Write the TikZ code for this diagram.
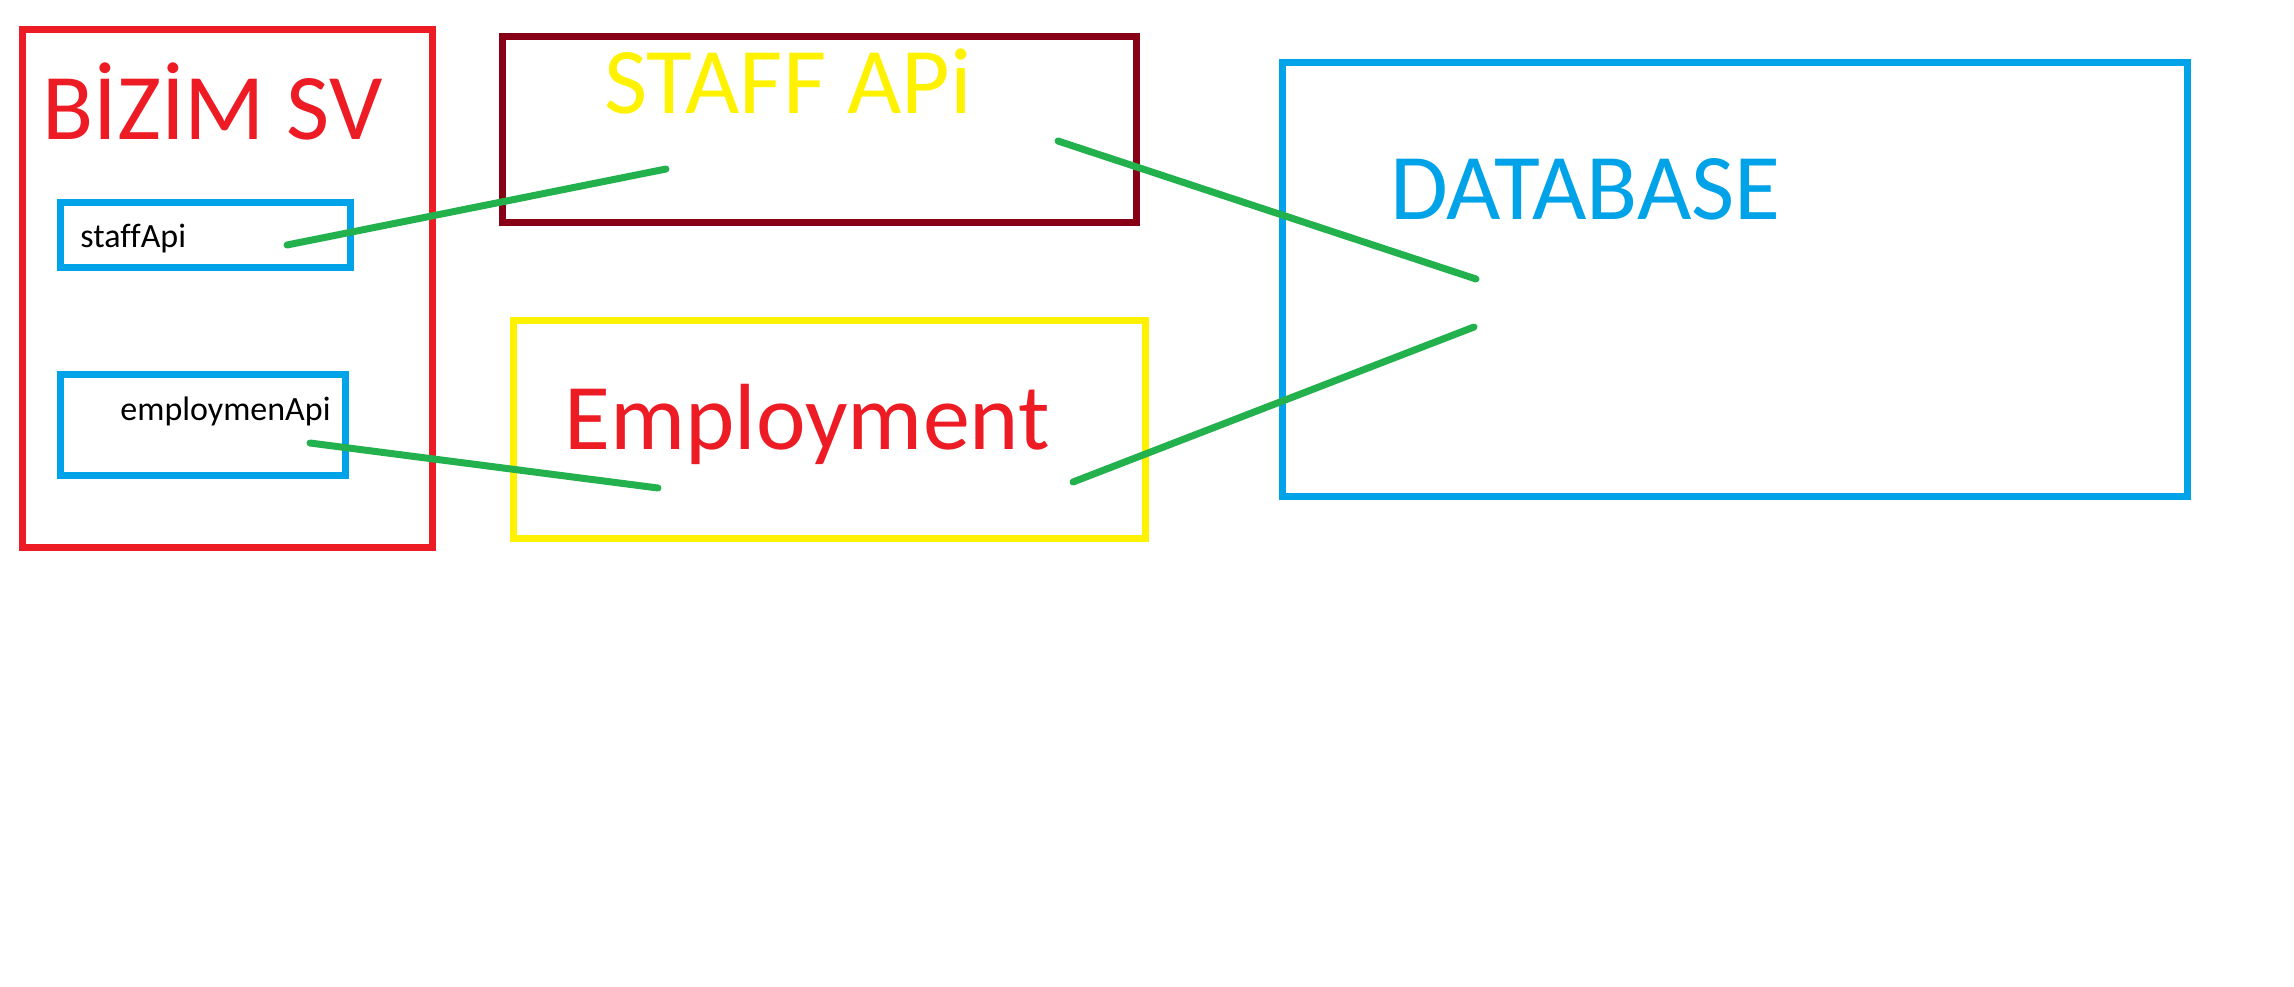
\documentclass[tikz,border=0pt]{standalone}
\usepackage{fontspec}
\setmainfont{Carlito}[Ligatures={NoCommon}]
\usepackage{tikz}
\usetikzlibrary{positioning}
\definecolor{pRed}{HTML}{ED1C24}
\definecolor{pDark}{HTML}{880015}
\definecolor{pYellow}{HTML}{FFF200}
\definecolor{pBlue}{HTML}{00A2E8}
\definecolor{pGreen}{HTML}{22B14C}

\begin{document}
\begin{tikzpicture}[
  x=0.5pt, y=-0.5pt,
  box/.style={draw, line width=3.5pt, inner sep=0pt},
  big/.style={anchor=base west, inner sep=0pt,
              font=\fontsize{47}{56}\selectfont},
  small/.style={anchor=base west, inner sep=0pt,
                font=\fontsize{17}{20}\selectfont},
  wire/.style={draw=pGreen, line width=3.5pt, line cap=round}
]
\useasboundingbox (0,0) rectangle (2294,986);

% --- Boxes ---
\node[box, draw=pRed, minimum width=205pt, minimum height=259pt] (sv) at (227.5,288.5) {};
\node[box, draw=pBlue, minimum width=145pt, minimum height=32.5pt] (staffApi) at (205.5,235) {};
\node[box, draw=pBlue, minimum width=142.5pt, minimum height=50.5pt] (empApi) at (203,425) {};
\node[box, draw=pDark, minimum width=317pt, minimum height=93pt] (staff) at (819.5,129.5) {};
\node[box, draw=pYellow, minimum width=316pt, minimum height=109pt] (emp) at (829.5,429.5) {};
\node[box, draw=pBlue, minimum width=452.5pt, minimum height=217pt] (db) at (1735,279.5) {};

% --- Labels ---
\node[big, text=pRed] (svLbl) at (42,139) {BİZİM SV};
\node[big, text=pYellow] (staffLbl) at (604,113) {STAFF APi};
\node[big, text=pBlue] (dbLbl) at (1390,219) {DATABASE};
\node[big, text=pRed] (empLbl) at (564,449.5) {Employment};
\node[small] (staffApiLbl) at (80,247) {staffApi};
\node[small] (empApiLbl) at (120,420) {employmenApi};

% --- Wire ends ---
\coordinate (saOut) at (287,245);
\coordinate (stIn) at (666,169);
\coordinate (stOut) at (1058,141);
\coordinate (dbIn1) at (1476,279);
\coordinate (eaOut) at (310,443);
\coordinate (emIn) at (658,488);
\coordinate (emOut) at (1073,482);
\coordinate (dbIn2) at (1474,327);

% --- Wires ---
\draw[wire] (saOut) -- (stIn);
\draw[wire] (stOut) -- (dbIn1);
\draw[wire] (eaOut) -- (emIn);
\draw[wire] (emOut) -- (dbIn2);
\end{tikzpicture}
\end{document}
